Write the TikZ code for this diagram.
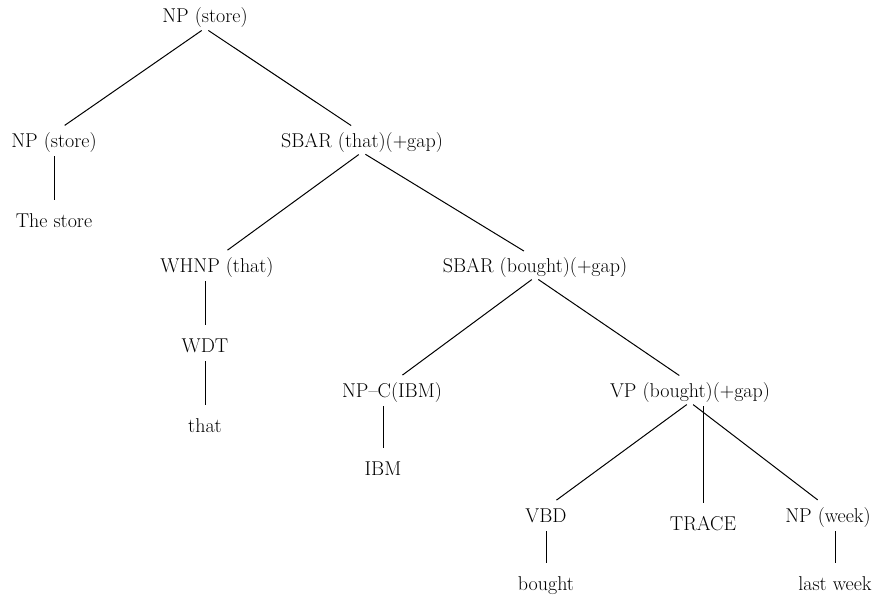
\documentclass[tikz,border=0pt]{standalone}
\usepackage{amssymb,amsmath}
\usepackage{tikz}

\begin{document}
\begin{tikzpicture}[x=1pt,y=-1pt,
    etiq/.style={inner sep=0pt,anchor=base,text height=14pt,text depth=5pt,
      font=\fontsize{20}{24}\selectfont},
    branche/.style={line width=1pt,shorten <=4pt,shorten >=13pt}]
\useasboundingbox (0,0) rectangle (883,607);
%					Etiquettes de l'arbre :
\node[etiq] (np0) at (205,23) {NP (store)};
\node[etiq] (np1) at (54,147) {NP (store)};
\node[etiq] (store) at (54,227) {The store};
\node[etiq] (sbar1) at (362,147) {SBAR (that)(+gap)};
\node[etiq] (whnp) at (217,272) {WHNP (that)};
\node[etiq] (wdt) at (205,352) {WDT};
\node[etiq] (that) at (205,432) {that};
\node[etiq] (sbar2) at (535,272) {SBAR (bought)(+gap)};
\node[etiq] (npc) at (392,397) {NP--C(IBM)};
\node[etiq] (ibm) at (383,475) {IBM};
\node[etiq] (vp) at (690,397) {VP (bought)(+gap)};
\node[etiq] (vbd) at (546,522) {VBD};
\node[etiq] (trace) at (703,530) {TRACE};
\node[etiq] (npw) at (828,522) {NP (week)};
\node[etiq] (bought) at (546,590) {bought};
\node[etiq] (week) at (835,590) {last week};
%					Branches :
\draw[branche] (np0.south) -- (np1.north);
\draw[branche] (np0.south) -- (sbar1.north);
\draw[branche] (np1.south) -- (store.north);
\draw[branche] (sbar1.south) -- (whnp.north);
\draw[branche] (sbar1.south) -- (sbar2.north);
\draw[branche] (whnp.south -| wdt.north) -- (wdt.north);
\draw[branche] (wdt.south) -- (that.north);
\draw[branche] (sbar2.south) -- (npc.north);
\draw[branche] (sbar2.south) -- (vp.north);
\draw[branche] (npc.south -| ibm.north) -- (ibm.north);
\draw[branche] (vp.south) -- (vbd.north);
\draw[branche] (vp.south -| trace.north) -- (trace.north);
\draw[branche] (vp.south) -- (npw.north);
\draw[branche] (vbd.south) -- (bought.north);
\draw[branche] (npw.south -| week.north) -- (week.north);
\end{tikzpicture}
\end{document}
